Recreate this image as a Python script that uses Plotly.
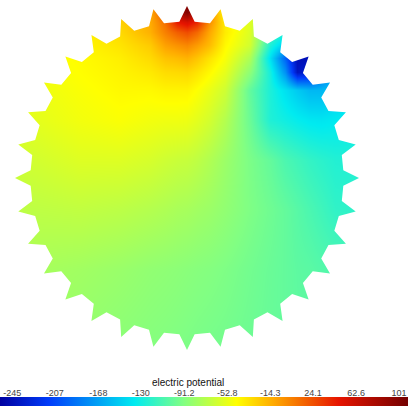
import math
import plotly.graph_objects as go

# grid positions (pixel-like units, origin at gear centre, y up)
x_px = [0, 40, 80, 120, 150, 165, 177, 187, 197, 209, 225, 250, 270, 285, 297, 309, 321, 335, 375]
y_px = [0, 12, 22, 32, 45, 58, 72, 90, 120, 160, 210, 270, 355]
x_coords = [v - 187 for v in x_px]
y_coords = [178 - v for v in y_px]  # top row first

# electric potential (rows follow y_px)
potential = [
    [-50, -44, -36, -24, -12, 20, 70, 101, 60, 0, -45, -58, -80, -95, -105, -110, -112, -110, -105],
    [-50, -45, -37, -25, -12, 25, 80, 101, 75, 5, -45, -58, -85, -105, -118, -125, -125, -120, -110],
    [-50, -46, -38, -27, -12, 12, 45, 55, 40, 0, -38, -57, -95, -118, -135, -145, -145, -135, -120],
    [-50, -46, -40, -30, -14, 5, 18, 25, 14, -10, -37, -58, -110, -125, -150, -170, -165, -150, -130],
    [-50, -47, -41, -34, -24, -8, -2, 2, -6, -18, -42, -62, -125, -150, -200, -225, -205, -170, -140],
    [-51, -48, -43, -38, -30, -21, -18, -15, -22, -33, -47, -76, -140, -195, -245, -245, -220, -170, -140],
    [-52, -49, -44, -40, -36, -31, -30, -29, -34, -42, -54, -88, -128, -175, -240, -232, -195, -165, -140],
    [-53, -51, -46, -42, -42, -40, -40, -40, -45, -52, -63, -103, -126, -140, -150, -158, -158, -150, -135],
    [-57, -54, -49, -46, -49, -50, -50, -51, -55, -61, -73, -100, -125, -130, -134, -137, -138, -136, -130],
    [-64, -61, -57, -57, -60, -63, -65, -66, -69, -74, -82, -94, -102, -110, -114, -118, -121, -124, -125],
    [-70, -69, -68, -70, -73, -75, -77, -78, -80, -82, -86, -93, -98, -102, -106, -110, -114, -119, -121],
    [-78, -78, -80, -83, -86, -87, -88, -89, -90, -91, -93, -97, -100, -102, -104, -105, -107, -109, -111],
    [-83, -84, -86, -89, -91, -92, -93, -94, -95, -96, -97, -99, -101, -102, -103, -104, -105, -106, -107],
]

tick_values = [-245, -207, -168, -130, -91.2, -52.8, -14.3, 24.1, 62.6, 101]
tick_labels = ["-245", "-207", "-168", "-130", "-91.2", "-52.8", "-14.3", "24.1", "62.6", "101"]
c_min, c_max = -256, 109

# gear outline parameters
n_teeth = 32
r_tip = 172
r_root = 156.5
half_base_deg = 2.8

colorscale = [
    [0.0, "rgb(0,0,160)"],
    [0.12, "rgb(0,60,250)"],
    [0.33, "rgb(0,235,240)"],
    [0.45, "rgb(130,255,130)"],
    [0.58, "rgb(255,255,0)"],
    [0.67, "rgb(255,170,0)"],
    [0.83, "rgb(230,20,0)"],
    [1.0, "rgb(115,0,0)"],
]

W, H = 409, 412
y_asc = y_coords[::-1]
z_asc = potential[::-1]

fig = go.Figure()
fig.add_trace(go.Heatmap(
    x=x_coords, y=y_asc, z=z_asc, zsmooth="best",
    colorscale=colorscale, zmin=c_min, zmax=c_max,
    hoverinfo="skip",
    colorbar=dict(
        orientation="h", lenmode="fraction", len=408 / W, thickness=9,
        x=204 / W, xanchor="center", y=(H - 406) / H, yanchor="bottom",
        xpad=0, ypad=0, outlinewidth=0, ticks="", showticklabels=False,
    ),
))
# invisible helper trace carrying the axis used for the colour-bar labels
fig.add_trace(go.Scatter(x=[c_min, c_max], y=[0, 0], xaxis="x2", yaxis="y2",
                         mode="markers", marker=dict(opacity=0), hoverinfo="skip",
                         showlegend=False))

# white mask outside the gear outline
pts = []
for k in range(n_teeth):
    a = 90 + k * 360 / n_teeth
    for ang, r in ((a - half_base_deg, r_root), (a, r_tip), (a + half_base_deg, r_root)):
        t = math.radians(ang)
        pts.append((r * math.cos(t), r * math.sin(t)))
gear = "M " + " L ".join(f"{x:.2f},{y:.2f}" for x, y in pts) + " Z"
outer = "M -500,-500 L 500,-500 L 500,500 L -500,500 Z "
fig.add_shape(type="path", path=outer + gear, xref="x", yref="y",
              fillcolor="white", line=dict(width=0), fillrule="evenodd", layer="above")

fig.add_annotation(text="electric potential", xref="paper", yref="paper",
                   x=188 / W, y=(H - 382) / H, xanchor="center", yanchor="middle", showarrow=False,
                   font=dict(family="Liberation Sans, Arial", size=10, color="#111"))

fig.update_layout(
    width=W, height=H,
    margin=dict(l=0, r=0, t=0, b=0, autoexpand=False),
    paper_bgcolor="white", plot_bgcolor="white",
    xaxis=dict(visible=False, domain=[0, 1], range=[-187, 222], fixedrange=True),
    yaxis=dict(visible=False, domain=[56 / H, 1], range=[-178, 178], fixedrange=True),
    xaxis2=dict(domain=[0, 408 / W], range=[c_min, c_max], anchor="free",
                position=(H - 398) / H, side="top", showgrid=False, zeroline=False,
                showline=False, ticks="", tickvals=tick_values, ticktext=tick_labels,
                tickfont=dict(family="Liberation Sans, Arial", size=9, color="#444"),
                fixedrange=True),
    yaxis2=dict(domain=[0, 0.02], anchor="x2", visible=False, fixedrange=True),
    showlegend=False,
)
fig.write_html("out.html", config={"displayModeBar": False},
               post_script="document.body.style.margin='0';")
